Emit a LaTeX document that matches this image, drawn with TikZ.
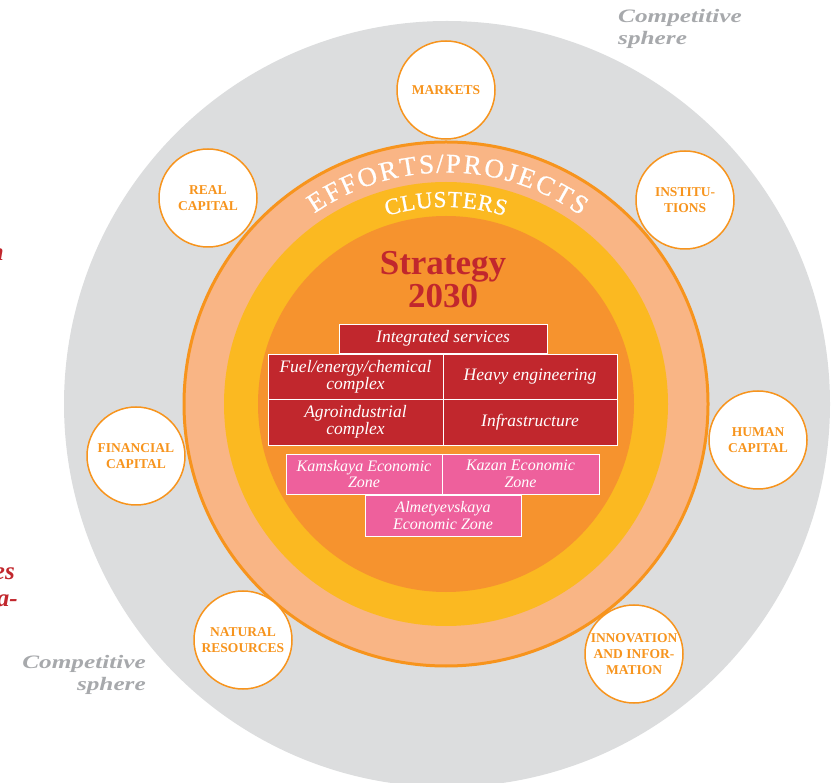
\documentclass[tikz,border=0pt]{standalone}
\usepackage{fontspec}
\setmainfont{Liberation Serif}
\definecolor{bggray}{HTML}{DCDDDE}
\definecolor{peach}{HTML}{F9B585}
\definecolor{ringorange}{HTML}{F7941D}
\definecolor{ringyellow}{HTML}{FBB921}
\definecolor{coreorange}{HTML}{F6932E}
\definecolor{boxred}{HTML}{C1272D}
\definecolor{boxpink}{HTML}{EE609C}
\definecolor{labelorange}{HTML}{F7941D}
\definecolor{spheregray}{HTML}{A7A9AC}
\def\myslash{/}
\tikzset{
  sat/.style={circle, draw=ringorange, line width=1.5pt, fill=white, minimum size=98pt,
    inner sep=0pt, align=center, text=labelorange,
    font=\fontsize{13.5}{16}\selectfont\bfseries},
  redbox/.style={rectangle, fill=boxred, draw=white, line width=0.8pt, inner sep=0pt,
    align=center, text=white, font=\fontsize{17.5}{17}\selectfont\itshape},
  pinkbox/.style={rectangle, fill=boxpink, draw=white, line width=0.8pt, inner sep=0pt,
    align=center, text=white, font=\fontsize{16}{16.5}\selectfont\itshape},
  arcbig/.style={text=white, inner sep=0pt, anchor=base,
    font=\fontsize{27}{27}\selectfont\addfontfeatures{FakeBold=0.7}},
  arcsmall/.style={text=white, inner sep=0pt, anchor=base,
    font=\fontsize{23}{23}\selectfont\addfontfeatures{FakeBold=0.9}},
  spheretext/.style={text=spheregray, inner sep=0pt,
    font=\fontsize{19}{21}\selectfont\bfseries\itshape\addfontfeatures{FakeStretch=1.33}},
  fragtext/.style={text=boxred, inner sep=0pt, anchor=base east,
    font=\fontsize{25}{25}\selectfont\bfseries\itshape},
  strat/.style={text=boxred, inner sep=0pt, anchor=base,
    font=\fontsize{35}{33}\selectfont\bfseries}
}
\begin{document}
\begin{tikzpicture}[x=1pt,y=1pt]
\useasboundingbox (0,0) rectangle (832,782);
\clip (0,0) rectangle (832,782);
\coordinate (C) at (446,378);
% rings
\fill[bggray] (447,378) circle[radius=383];
\filldraw[fill=peach, draw=ringorange, line width=3pt] (C) circle[radius=262];
\fill[ringyellow] (C) circle[radius=222];
\fill[coreorange] (C) circle[radius=188];
% arc texts
\foreach \ch/\a [count=\i] in {E/122.6, F/118.18, F/113.96, O/109.14, R/103.91, T/99.09, S/94.67,
  \myslash/91.46, P/88.25, R/83.62, O/78.40, J/74.18, E/70.36, C/65.54, T/60.72, S/56.3}
  \node[arcbig, rotate=\a-90] (ep\i) at ([shift={(\a:231.5)}]C) {\ch};
\foreach \ch/\a [count=\i] in {C/105.2, L/100.75, U/96.13, S/91.68, T/87.54, E/83.25, R/78.80, S/74.5}
  \node[arcsmall, rotate=\a-90] (cl\i) at ([shift={(\a:197)}]C) {\ch};
% strategy
\node[strat] (strat1) at (443,507) {Strategy};
\node[strat] (strat2) at (443,474) {2030};
% red boxes
\node[redbox, minimum width=208pt, minimum height=29pt] (integ) at (443,443.5) {Integrated services};
\node[redbox, minimum width=175pt, minimum height=45pt] (fuel) at (355.5,405.5) {Fuel/energy/chemical\\complex};
\node[redbox, minimum width=174pt, minimum height=45pt] (heavy) at (530,405.5) {Heavy engineering};
\node[redbox, minimum width=175pt, minimum height=46pt] (agro) at (355.5,360) {Agroindustrial\\complex};
\node[redbox, minimum width=174pt, minimum height=46pt] (infra) at (530,360) {Infrastructure};
% pink boxes
\node[pinkbox, minimum width=156pt, minimum height=40pt] (kam) at (364,308) {Kamskaya Economic\\Zone};
\node[pinkbox, minimum width=157pt, minimum height=40pt] (kaz) at (520.5,308) {Kazan Economic\\Zone};
\node[pinkbox, minimum width=156pt, minimum height=41pt] (alm) at (443,266.5) {Almetyevskaya\\Economic Zone};
% satellites
\node[sat] (markets) at (446,692) {MARKETS};
\node[sat] (realcap) at (208,584) {REAL\\CAPITAL};
\node[sat] (instit) at (685,582) {INSTITU-\\TIONS};
\node[sat] (fincap) at (136,326) {FINANCIAL\\CAPITAL};
\node[sat] (humcap) at (758,342) {HUMAN\\CAPITAL};
\node[sat] (natres) at (243,142) {NATURAL\\RESOURCES};
\node[sat] (innov) at (634,128) {INNOVATION\\AND INFOR-\\MATION};
% competitive sphere labels
\node[spheretext, anchor=base west] (cs1a) at (618,759) {Competitive};
\node[spheretext, anchor=base west] (cs1b) at (618,737) {sphere};
\node[spheretext, anchor=base east] (cs2a) at (146,114) {Competitive};
\node[spheretext, anchor=base east] (cs2b) at (146,92) {sphere};
% cut-off fragments at left edge
\node[fragtext] (fr1) at (4,521) {n};
\node[fragtext] (fr2) at (15,203) {es};
\node[fragtext] (fr3) at (18,176) {a-};
\end{tikzpicture}
\end{document}
